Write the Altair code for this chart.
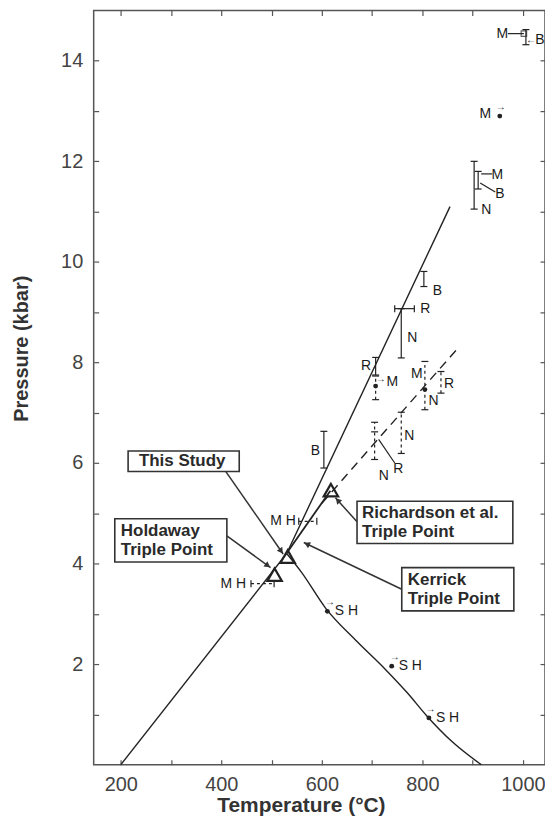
import math
import altair as alt
import pandas as pd

# ---------------- data ----------------
X_DOM = [146, 1044]
Y_DOM = [0, 15]
W, H = 453, 757
PX_X = W / (X_DOM[1] - X_DOM[0])
PX_Y = H / (Y_DOM[1] - Y_DOM[0])

# phase boundaries
and_ky_T = [200, 530]
and_ky_P = [0.0, 4.2]
ky_sil_T = [530, 855]
ky_sil_P = [4.2, 11.1]
and_sil_T = [530, 560, 607, 670, 726, 770, 808, 860, 917]
and_sil_P = [4.2, 3.82, 3.12, 2.45, 1.90, 1.43, 0.98, 0.45, 0.0]
rich_T = [533, 617]
rich_P = [4.25, 5.45]
dash_T = [600, 872]
dash_P = [5.2, 8.3]

# triple points (Holdaway, this study, Richardson et al.)
tp_T = [506, 532, 618]
tp_P = [3.78, 4.14, 5.46]

# vertical brackets (solid)
vb_T = [1006, 903, 911, 803, 758, 707, 604]
vb_lo = [14.32, 11.05, 11.45, 9.51, 8.09, 7.75, 5.90]
vb_hi = [14.62, 12.00, 11.80, 9.81, 9.07, 8.10, 6.63]
# vertical brackets (dashed)
vd_T = [707, 805, 837, 758, 705]
vd_lo = [7.26, 7.06, 7.39, 6.19, 6.07]
vd_hi = [7.73, 8.02, 7.82, 7.01, 6.81]
# horizontal brackets
hb_P = [9.07]
hb_lo = [745]
hb_hi = [784]
hd_P = [4.84, 3.60]
hd_lo = [554, 459]
hd_hi = [590, 505]
# extra cap
xc_T = [705]
xc_P = [6.62]

# connector lines
cn_T1 = [970, 917, 915, 713]
cn_P1 = [14.54, 11.75, 11.57, 6.47]
cn_T2 = [1002, 939, 945, 745]
cn_P2 = [14.54, 11.75, 11.39, 6.00]

# dots
dot_T = [954, 707, 611, 739, 813, 805]
dot_P = [12.90, 7.53, 3.05, 1.96, 0.93, 7.46]
sq_T = [1002]
sq_P = [14.54]

# small arrows
sa_txt = ["←", "→", "→", "→", "→", "→"]
sa_T = [1016, 956, 717, 616, 745, 816]
sa_P = [14.42, 13.08, 7.68, 3.24, 2.14, 1.11]

# letter labels
lb_txt = ["M", "B", "M", "M", "B", "N", "B", "R", "N", "R", "M", "M", "R",
          "N", "N", "B", "R", "N", "M H", "M H", "S H", "S H", "S H"]
lb_T = [959, 1034, 925, 949, 954, 927, 830, 806, 780, 688, 740, 789, 853,
        822, 774, 587, 752, 723, 523, 424, 649, 776, 850]
lb_P = [14.54, 14.42, 12.95, 11.72, 11.35, 11.03, 9.42, 9.07, 8.49, 7.92, 7.62,
        7.78, 7.58, 7.23, 6.53, 6.24, 5.89, 5.74, 4.84, 3.60, 3.05, 1.96, 0.93]

# annotation boxes
box_text = [["This Study"], ["Holdaway", "Triple Point"],
            ["Richardson et al.", "Triple Point"], ["Kerrick", "Triple Point"]]
box_T1 = [214.5, 188, 670, 759]
box_T2 = [435.6, 411, 980, 982]
box_P1 = [5.83, 4.03, 4.40, 3.06]
box_P2 = [6.24, 4.89, 5.24, 3.92]
box_tT = [236, 200, 680, 771]

# annotation arrows
ar_T1 = [409, 411, 670, 759]
ar_P1 = [5.83, 4.55, 4.83, 3.49]
ar_T2 = [523, 498, 627, 564]
ar_P2 = [4.19, 3.92, 5.31, 4.42]

# ---------------- chart ----------------
FONT = "Liberation Sans"
INK = "#222"
LINE_H = 19
xs = alt.Scale(domain=X_DOM, nice=False, zero=False)
ys = alt.Scale(domain=Y_DOM, nice=False, zero=False)


def X(f):
    return alt.X(f, type="quantitative", scale=xs, axis=None)


def Y(f):
    return alt.Y(f, type="quantitative", scale=ys, axis=None)


def line_layer(T, P, dash=None, width=1.4, interp="linear"):
    df = pd.DataFrame({"T": T, "P": P, "o": list(range(len(T)))})
    kw = dict(color=INK, strokeWidth=width, interpolate=interp)
    if dash:
        kw["strokeDash"] = dash
    return alt.Chart(df).mark_line(**kw).encode(x=X("T"), y=Y("P"), order="o:Q")


x_axis = alt.Axis(orient="bottom", values=list(range(200, 1001, 100)), tickSize=5,
                  offset=-5, domain=False, grid=False, tickColor="#555", tickWidth=1.2,
                  labelExpr="datum.value % 200 == 0 ? format(datum.value, 'd') : ''",
                  labelFont=FONT, labelFontSize=20, labelColor="#444", labelPadding=10,
                  labelFlush=False, labelOverlap=False,
                  title="Temperature (°C)", titleFont=FONT, titleFontSize=21,
                  titleFontWeight="bold", titleColor="#333",
                  titleX=208, titleAlign="center",
                  titleY=52, titleBaseline="alphabetic")
y_axis = alt.Axis(orient="left", values=list(range(1, 15)), tickSize=5,
                  offset=-5, domain=False, grid=False, tickColor="#555", tickWidth=1.2,
                  labelExpr="datum.value % 2 == 0 ? format(datum.value, 'd') : ''",
                  labelFont=FONT, labelFontSize=20, labelColor="#444", labelPadding=11,
                  labelFlush=False, labelOverlap=False,
                  title="Pressure (kbar)", titleFont=FONT, titleFontSize=20,
                  titleFontWeight="bold", titleColor="#333",
                  titleX=-71, titleY=339, titleBaseline="alphabetic", titleAngle=270)
x_top = alt.Axis(orient="top", values=list(range(200, 1001, 100)), tickSize=5, offset=-5,
                 domain=False, grid=False, labels=False, title="", tickColor="#555", tickWidth=1.2)
y_right = alt.Axis(orient="right", values=list(range(1, 15)), tickSize=5, offset=-5,
                   domain=False, grid=False, labels=False, title="", tickColor="#555", tickWidth=1.2)

corner = pd.DataFrame({"T": X_DOM, "P": Y_DOM})
axes_main = alt.Chart(corner).mark_point(opacity=0).encode(
    x=alt.X("T:Q", scale=xs, axis=x_axis), y=alt.Y("P:Q", scale=ys, axis=y_axis))
axes_other = alt.Chart(corner).mark_point(opacity=0).encode(
    x=alt.X("T:Q", scale=xs, axis=x_top), y=alt.Y("P:Q", scale=ys, axis=y_right))

lines = [
    line_layer(and_ky_T, and_ky_P),
    line_layer(ky_sil_T, ky_sil_P),
    line_layer(and_sil_T, and_sil_P, interp="monotone"),
    line_layer(rich_T, rich_P, width=1.8),
    line_layer(dash_T, dash_P, dash=[9, 6]),
]

tri = alt.Chart(pd.DataFrame({"T": tp_T, "P": tp_P})).mark_point(
    shape="triangle-up", filled=False, size=210, strokeWidth=2.2, color=INK, opacity=1
).encode(x=X("T"), y=Y("P"))

# brackets
vb = pd.DataFrame({"T": vb_T, "lo": vb_lo, "hi": vb_hi})
vd = pd.DataFrame({"T": vd_T, "lo": vd_lo, "hi": vd_hi})
hb = pd.DataFrame({"P": hb_P, "lo": hb_lo, "hi": hb_hi})
hd = pd.DataFrame({"P": hd_P, "lo": hd_lo, "hi": hd_hi})

vb_rule = alt.Chart(vb).mark_rule(color=INK, strokeWidth=1.2).encode(
    x=X("T"), y=Y("lo"), y2="hi")
vd_rule = alt.Chart(vd).mark_rule(color=INK, strokeWidth=1.2, strokeDash=[3, 3]).encode(
    x=X("T"), y=Y("lo"), y2="hi")
hb_rule = alt.Chart(hb).mark_rule(color=INK, strokeWidth=1.2).encode(
    y=Y("P"), x=X("lo"), x2="hi")
hd_rule = alt.Chart(hd).mark_rule(color=INK, strokeWidth=1.2, strokeDash=[3, 3]).encode(
    y=Y("P"), x=X("lo"), x2="hi")

vcaps = pd.DataFrame({
    "T": vb_T + vb_T + vd_T + vd_T + xc_T,
    "P": vb_lo + vb_hi + vd_lo + vd_hi + xc_P,
})
hcaps = pd.DataFrame({"T": hb_lo + hb_hi + hd_lo + hd_hi, "P": hb_P + hb_P + hd_P + hd_P})
vcap_mark = alt.Chart(vcaps).mark_tick(orient="horizontal", size=7, thickness=1.2, color=INK,
                                       opacity=1).encode(x=X("T"), y=Y("P"))
hcap_mark = alt.Chart(hcaps).mark_tick(orient="vertical", size=7, thickness=1.2, color=INK,
                                       opacity=1).encode(x=X("T"), y=Y("P"))

conn = alt.Chart(pd.DataFrame({"T1": cn_T1, "P1": cn_P1, "T2": cn_T2, "P2": cn_P2})).mark_rule(
    color=INK, strokeWidth=1.2).encode(x=X("T1"), y=Y("P1"), x2="T2", y2="P2")

dots = alt.Chart(pd.DataFrame({"T": dot_T, "P": dot_P})).mark_circle(
    size=24, color=INK, opacity=1).encode(x=X("T"), y=Y("P"))
sq = alt.Chart(pd.DataFrame({"T": sq_T, "P": sq_P})).mark_point(
    shape="square", size=30, filled=False, color=INK, strokeWidth=1.2).encode(x=X("T"), y=Y("P"))

small_arrows = alt.Chart(pd.DataFrame({"t": sa_txt, "T": sa_T, "P": sa_P})).mark_text(
    font=FONT, fontSize=10, color=INK, align="center", baseline="middle").encode(
    x=X("T"), y=Y("P"), text="t:N")

labels = alt.Chart(pd.DataFrame({"t": lb_txt, "T": lb_T, "P": lb_P})).mark_text(
    font=FONT, fontSize=14, color="#1a1a1a", align="center", baseline="middle").encode(
    x=X("T"), y=Y("P"), text="t:N")

# annotation arrows
ar_df = pd.DataFrame({"T1": ar_T1, "P1": ar_P1, "T2": ar_T2, "P2": ar_P2})
ang, hT, hP = [], [], []
for t1, p1, t2, p2 in zip(ar_T1, ar_P1, ar_T2, ar_P2):
    dx = (t2 - t1) * PX_X
    dy = -(p2 - p1) * PX_Y
    a = math.degrees(math.atan2(dx, -dy)) % 360
    L = math.hypot(dx, dy)
    back = 3.5
    hT.append(t2 - back * dx / L / PX_X)
    hP.append(p2 + back * dy / L / PX_Y)
    ang.append(a)
heads_df = pd.DataFrame({"T": hT, "P": hP, "a": ang})
ar_rule = alt.Chart(ar_df).mark_rule(color="#333", strokeWidth=1.5).encode(
    x=X("T1"), y=Y("P1"), x2="T2", y2="P2")
ar_head = alt.Chart(heads_df).mark_point(
    shape="triangle-up", filled=True, size=45, color="#333", opacity=1).encode(
    x=X("T"), y=Y("P"), angle=alt.Angle("a:Q", scale=None))

# first text line placed so that the block is centred in its box
box_tP = [(a + b) / 2 + (len(t) - 1) * LINE_H / 2 / PX_Y
          for a, b, t in zip(box_P1, box_P2, box_text)]
boxes_df = pd.DataFrame({
    "T1": box_T1, "T2": box_T2, "P1": box_P1, "P2": box_P2,
    "tT": box_tT, "tP": box_tP, "txt": box_text,
})
box_rect = alt.Chart(boxes_df).mark_rect(fill="white", stroke="#333", strokeWidth=1.6).encode(
    x=X("T1"), x2="T2", y=Y("P1"), y2="P2")
box_txt = alt.Chart(boxes_df).mark_text(
    font=FONT, fontSize=17, fontWeight="bold", color="#2a2a2a", align="left",
    baseline="middle", lineHeight=LINE_H).encode(x=X("tT"), y=Y("tP"), text="txt")

chart = alt.layer(
    axes_main, axes_other,
    *lines, vb_rule, vd_rule, hb_rule, hd_rule, vcap_mark, hcap_mark, conn,
    ar_rule, ar_head, tri, dots, sq, small_arrows, labels, box_rect, box_txt,
).resolve_axis(x="independent", y="independent").properties(
    width=W, height=H,
    autosize=alt.AutoSizeParams(type="none"),
    padding={"left": 86, "top": 1, "right": 0, "bottom": 52},
    background="white",
).configure_view(stroke="#555", strokeWidth=1.5)

chart.save("out.html", embed_options={"renderer": "svg", "actions": False})
